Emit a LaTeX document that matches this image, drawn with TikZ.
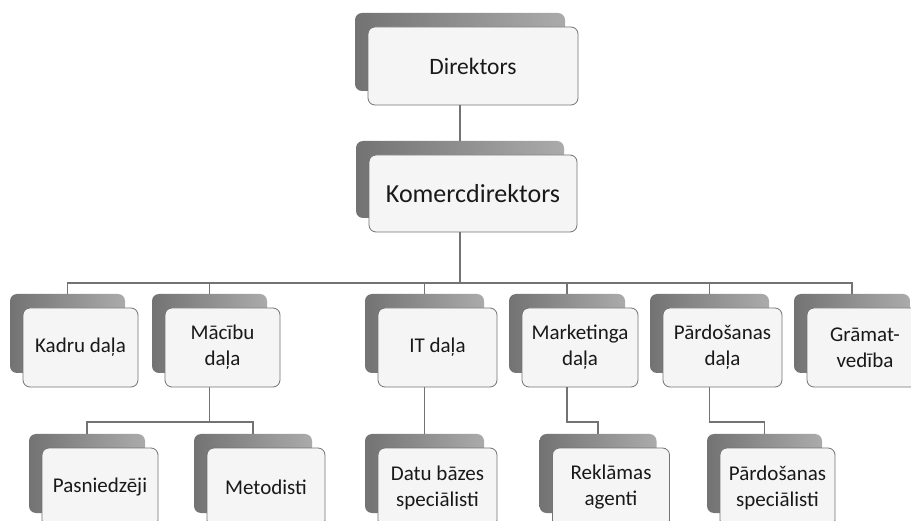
\documentclass[tikz,border=0pt]{standalone}
\usepackage{fontspec}
\setmainfont{Carlito}
\usetikzlibrary{backgrounds}
\tikzset{
  shadowbox/.style={rectangle, rounded corners=7pt, inner sep=0pt, left color=black!55, right color=black!33, draw=none},
  mainbox/.style={rectangle, rounded corners=7pt, inner sep=0pt, fill=black!4, draw=black!55, line width=0.8pt,
    align=center, text=black!90, font=\fontsize{21}{26}\selectfont},
  conn/.style={draw=black!55, line width=1.8pt}
}
\newcommand\OrgBox[7][]{%
  \node[shadowbox, minimum width=#5pt, minimum height=#6pt] (#2s) at ({#3-13},{#4-14}) {};
  \node[mainbox, minimum width=#5pt, minimum height=#6pt, #1] (#2) at (#3,#4) {#7};
}
\begin{document}
\begin{tikzpicture}[x=1pt,y=-1pt]
\useasboundingbox (0,0) rectangle (911,521);
\clip (0,0) rectangle (911,521);
% top
\OrgBox[font=\fontsize{23.5}{28}\selectfont]{dir}{473}{66}{210}{78}{Direktors}
\OrgBox[font=\fontsize{26}{31}\selectfont]{kom}{473}{193.5}{208}{77}{Komercdirektors}
% row 1
\OrgBox{kadru}{80.5}{347.5}{115}{79}{Kadru daļa}
\OrgBox{macibu}{222.5}{347.5}{115}{79}{Mācību\\daļa}
\OrgBox{it}{437.5}{347.5}{119}{79}{IT daļa}
\OrgBox{mark}{580}{347.5}{116}{79}{Marketinga\\daļa}
\OrgBox{pard}{722.5}{347.5}{119}{79}{Pārdošanas\\daļa}
\OrgBox{gram}{865}{347.5}{116}{79}{Grāmat-\\vedība}
% row 2
\OrgBox{pasn}{100}{487.5}{116}{79}{Pasniedzēji}
\OrgBox{metod}{266}{487.5}{118}{79}{Metodisti}
\OrgBox{datu}{437.5}{487.5}{119}{79}{Datu bāzes\\speciālisti}
\OrgBox{rekl}{611}{487.5}{117}{79}{Reklāmas\\agenti}
\OrgBox{pspec}{777.5}{487.5}{115}{79}{Pārdošanas\\speciālisti}
\coordinate (bus) at (460,283);
\coordinate (sub) at (0,422);
\begin{scope}[on background layer]
  \fill[white] (0,0) rectangle (911,521);
  \draw[conn] (dirs.south) -- (koms.north);
  \draw[conn] (koms.south) -- (bus);
  \draw[conn] (kadrus.north) -- (kadrus.north |- bus) -- (grams.north |- bus) -- (grams.north);
  \draw[conn] (macibus.north) -- (macibus.north |- bus);
  \draw[conn] (its.north) -- (its.north |- bus);
  \draw[conn] (marks.north) -- (marks.north |- bus);
  \draw[conn] (pards.north) -- (pards.north |- bus);
  \draw[conn] (macibus.south) -- (macibus.south |- sub);
  \draw[conn] (pasns.north) -- (pasns.north |- sub) -- (metods.north |- sub) -- (metods.north);
  \draw[conn] (its.south) -- (datus.north);
  \draw[conn] (marks.south) -- (marks.south |- sub) -- (rekls.north |- sub) -- (rekls.north);
  \draw[conn] (pards.south) -- (pards.south |- sub) -- (pspecs.north |- sub) -- (pspecs.north);
\end{scope}
\end{tikzpicture}
\end{document}
